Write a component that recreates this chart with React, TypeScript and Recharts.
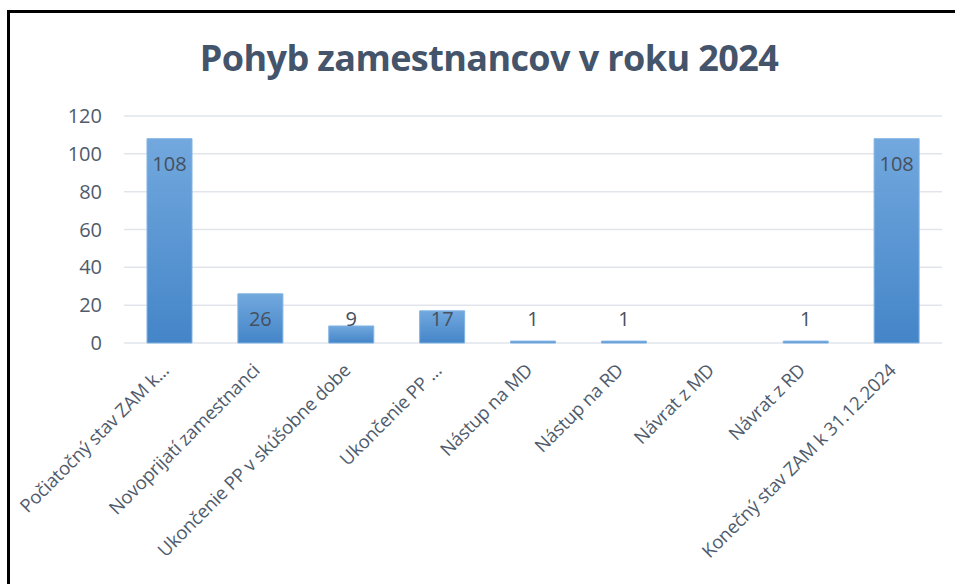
import { Bar, BarChart, CartesianGrid, LabelList, XAxis, YAxis } from 'recharts'

const categories = [
  'Počiatočný stav ZAM k...',
  'Novoprijatí zamestnanci',
  'Ukončenie PP v skúšobne dobe',
  'Ukončenie PP ...',
  'Nástup na MD',
  'Nástup na RD',
  'Návrat z MD',
  'Návrat z RD',
  'Konečný stav ZAM k 31.12.2024',
]
const values = [108, 26, 9, 17, 1, 1, 0, 1, 108]
const yTicks = [0, 20, 40, 60, 80, 100, 120]

const chartData = categories.map((name, i) => ({ name, value: values[i] }))

const FONT = '"Open Sans", sans-serif'
const TEXT = '#4f5b6c'

const XTick = ({ x, y, payload }: any) => (
  <g transform={`translate(${x - 4},${y + 16})`}>
    <text
      transform="rotate(-45)"
      textAnchor="end"
      dy="0.35em"
      fontFamily={FONT}
      fontSize={18.5}
      letterSpacing={-0.2}
      fill={TEXT}
    >
      {payload.value}
    </text>
  </g>
)

// excel style: inside end, but pushed up above the bar when it's too short
const ValueLabel = ({ x, y, width, value }: any) => {
  const cy = Math.min(y + 25, 319)
  return (
    <text
      x={x + width / 2}
      y={cy}
      dy="0.35em"
      textAnchor="middle"
      fontFamily={FONT}
      fontSize={20}
      fill="#46505e"
    >
      {value}
    </text>
  )
}

export default function App() {
  return (
    <div style={{ position: 'absolute', left: 0, top: 0, width: 955, height: 584, background: '#fff' }}>
      <div
        style={{
          position: 'absolute',
          left: 7,
          top: 10,
          width: 948,
          height: 574,
          borderLeft: '3px solid #000',
          borderTop: '3px solid #000',
        }}
      />
      <div
        style={{
          position: 'absolute',
          left: 0,
          width: 978,
          top: 33,
          textAlign: 'center',
          fontFamily: FONT,
          fontWeight: 700,
          fontSize: 36,
          color: '#44546a',
          letterSpacing: -0.6,
        }}
      >
        Pohyb zamestnancov v roku 2024
      </div>
      <BarChart
        width={955}
        height={584}
        data={chartData}
        margin={{ top: 116, right: 13, left: 0, bottom: 0 }}
        style={{ position: 'absolute', left: 0, top: 0 }}
      >
        <defs>
          <linearGradient id="barFill" x1="0" y1="0" x2="0" y2="1">
            <stop offset="0%" stopColor="#72a8de" />
            <stop offset="100%" stopColor="#4485c8" />
          </linearGradient>
        </defs>
        <CartesianGrid vertical={false} stroke="#e1e5eb" strokeWidth={1.5} />
        <XAxis
          dataKey="name"
          axisLine={false}
          tickLine={false}
          interval={0}
          height={241}
          tick={<XTick />}
        />
        <YAxis
          domain={[0, 120]}
          ticks={yTicks}
          width={124}
          axisLine={false}
          tickLine={false}
          tickSize={0}
          tickMargin={22}
          tick={{ fontFamily: FONT, fontSize: 20, fill: TEXT }}
        />
        <Bar dataKey="value" fill="url(#barFill)" stroke="#80b3e3" strokeWidth={1} barSize={45} isAnimationActive={false}>
          <LabelList dataKey="value" content={<ValueLabel />} />
        </Bar>
      </BarChart>
    </div>
  )
}
